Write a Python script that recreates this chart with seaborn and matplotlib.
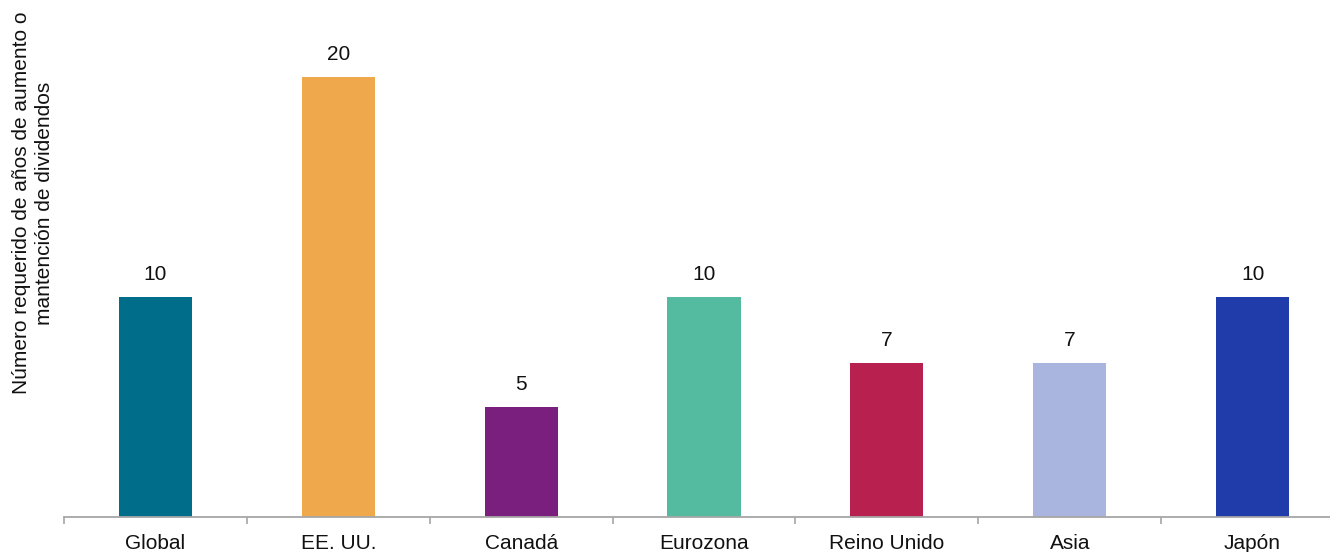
import matplotlib
matplotlib.use("Agg")
import matplotlib.pyplot as plt
import seaborn as sns
import pandas as pd
from matplotlib.ticker import FixedLocator

categories = ["Global", "EE. UU.", "Canadá", "Eurozona", "Reino Unido", "Asia", "Japón"]
values = [10, 20, 5, 10, 7, 7, 10]
colors = ["#006E8A", "#F0A84C", "#7A1F7E", "#54BBA1", "#B82050", "#A9B5DF", "#1F3CAA"]
ylabel = "Número requerido de años de aumento o\nmantención de dividendos"

sns.set_theme(style="white")
plt.rcParams["font.family"] = ["Liberation Sans", "DejaVu Sans"]

df = pd.DataFrame({"cat": categories, "val": values})

fig = plt.figure(figsize=(13.3, 5.52), dpi=100)
ax = fig.add_axes([64 / 1330, 35 / 552, 1280 / 1330, 517 / 552])
sns.barplot(data=df, x="cat", y="val", hue="cat", palette=colors, width=0.4,
            legend=False, ax=ax, saturation=1, linewidth=0)

ax.set_xlim(-0.5, len(categories) - 0.5)
ax.set_ylim(0, 23.5)
ax.set_yticks([])
ax.set_xlabel("")
ax.set_ylabel("")

for s in ["top", "right", "left"]:
    ax.spines[s].set_visible(False)
ax.spines["bottom"].set_color("#A6A6A6")
ax.spines["bottom"].set_linewidth(1.3)

ax.tick_params(axis="x", which="major", length=0, pad=12.5, labelsize=15, labelcolor="#111111")
ax.xaxis.set_minor_locator(FixedLocator([i - 0.5 for i in range(len(categories) + 1)]))
ax.tick_params(axis="x", which="minor", length=5, width=1.2, color="#A6A6A6", bottom=True)

for i, v in enumerate(values):
    ax.annotate(str(v), (i, v), xytext=(0, 9.5), textcoords="offset points",
                ha="center", va="bottom", fontsize=15, color="#111111")

fig.text(33 / 1330, 1 - 203 / 552, ylabel, rotation=90, ha="center", va="center",
         multialignment="center", fontsize=15, color="#111111", linespacing=1.2)

fig.savefig("out.png", dpi=100)
